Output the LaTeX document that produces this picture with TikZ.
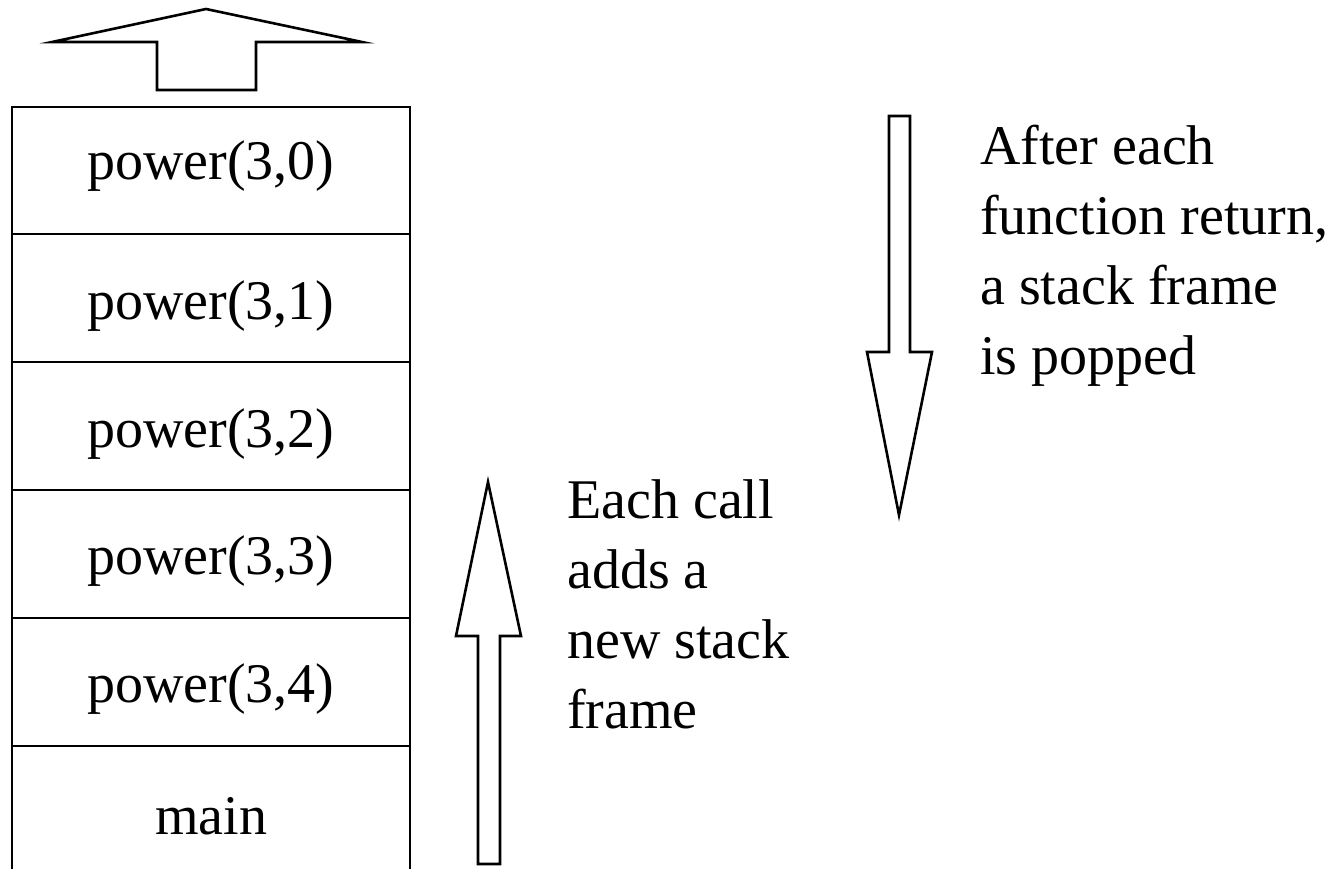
\documentclass[tikz,border=0pt]{standalone}
\usepackage{fontspec}
\setmainfont{Liberation Serif}
\begin{document}
\begin{tikzpicture}[x=1pt,y=-1pt,
  outline/.style={line width=2.6pt,line join=miter},
  frame/.style={font=\fontsize{56}{70}\selectfont,anchor=base,inner sep=0pt},
  note/.style={font=\fontsize{56}{70}\selectfont,anchor=base west,align=left,inner sep=0pt}]
\useasboundingbox (0,0) rectangle (1336,869);

% stack outline: open at the bottom
\draw[outline] (12,869) -- (12,107) -- (410,107) -- (410,869);
\foreach \y in {234,362,490,618,746}
  \draw[outline] (12,\y) -- (410,\y);

% frame labels (base of each line)
\node[frame] (f0) at (211,180) {power(3,0)};
\node[frame] (f1) at (211,319) {power(3,1)};
\node[frame] (f2) at (211,447) {power(3,2)};
\node[frame] (f3) at (211,574) {power(3,3)};
\node[frame] (f4) at (211,702) {power(3,4)};
\node[frame] (fm) at (211,834) {main};

% pop arrow on top of the stack
\draw[outline] (157,90) -- (157,42) -- (52,42) -- (206,9) -- (362,42) -- (256,42) -- (256,90) -- cycle;

% push arrow
\draw[outline] (478,864) -- (478,636) -- (456,636) -- (488,482) -- (521,636) -- (500,636) -- (500,864) -- cycle;

% return arrow
\draw[outline] (889,116) -- (889,352) -- (867,352) -- (899,515) -- (932,352) -- (910,352) -- (910,116) -- cycle;

% multi-line notes, placed by the baseline of their last line
\node[note] (push) at (567,728) {Each call\\adds a\\new stack\\frame};
\node[note] (ret) at (980,374) {After each\\function return,\\a stack frame\\is popped};
\end{tikzpicture}
\end{document}
